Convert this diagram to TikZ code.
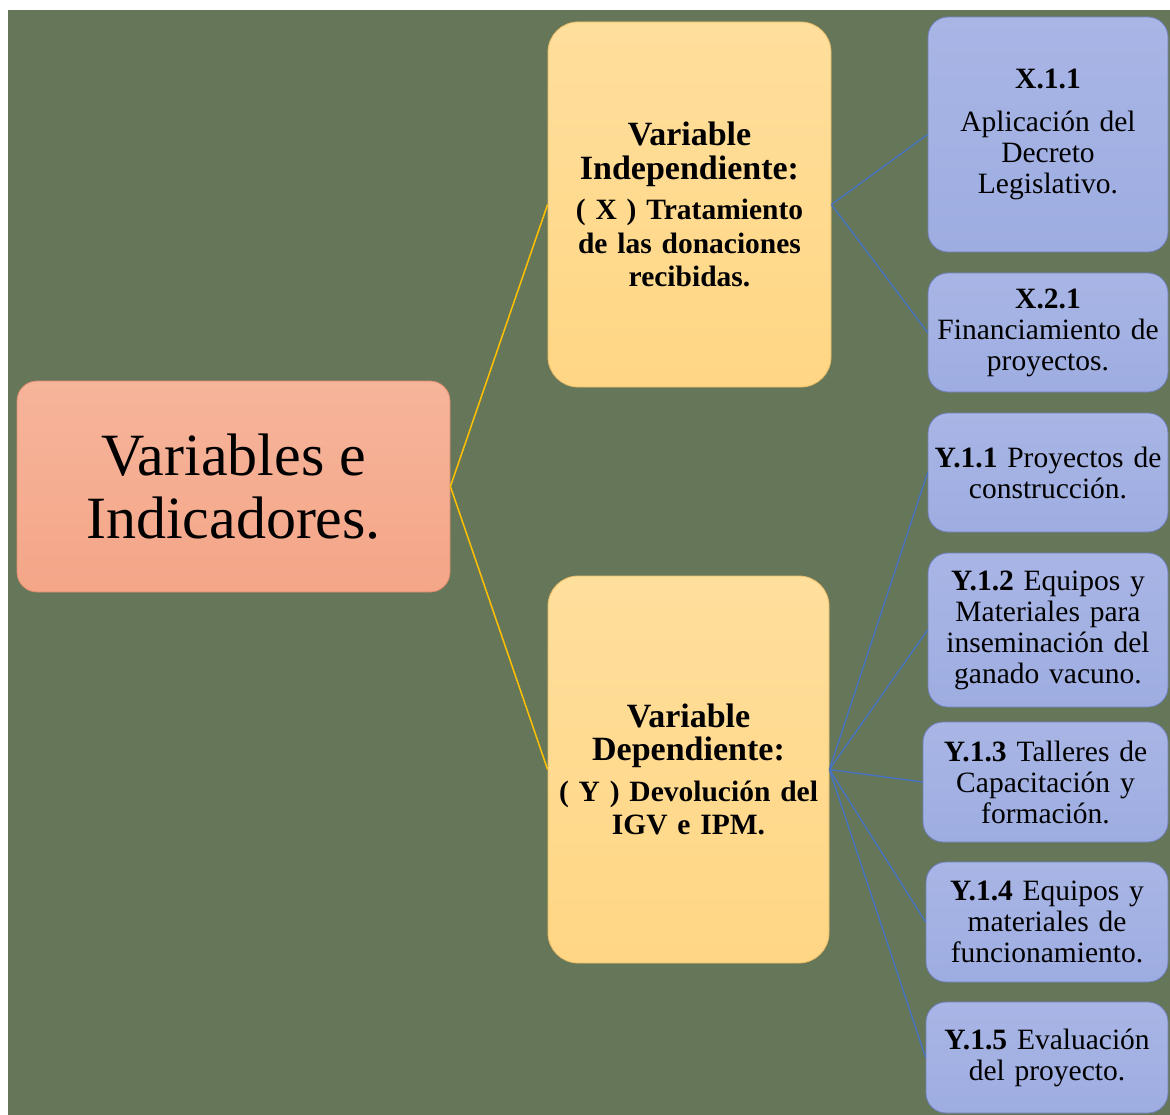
\documentclass[tikz,border=0pt]{standalone}
\usepackage{fontspec}
\setmainfont{Liberation Serif}
\definecolor{bggreen}{RGB}{102,119,89}
\definecolor{salmonT}{RGB}{246,180,154}
\definecolor{salmonB}{RGB}{244,166,136}
\definecolor{salmonD}{RGB}{222,140,112}
\definecolor{yelT}{RGB}{255,223,156}
\definecolor{yelB}{RGB}{255,214,132}
\definecolor{yelD}{RGB}{232,188,104}
\definecolor{bluT}{RGB}{168,181,229}
\definecolor{bluB}{RGB}{158,173,225}
\definecolor{bluD}{RGB}{112,128,190}
\definecolor{goldline}{RGB}{255,192,0}
\definecolor{blueline}{RGB}{68,114,196}
\begin{document}
\begin{tikzpicture}[x=1pt,y=-1pt,
  rootbox/.style={draw=salmonD,line width=0.8pt,top color=salmonT,bottom color=salmonB,
    rounded corners=20pt,inner sep=0pt,align=center,
    font=\fontsize{60}{63}\selectfont},
  varbox/.style={draw=yelD,line width=0.8pt,top color=yelT,bottom color=yelB,
    rounded corners=30pt,inner sep=0pt,align=center,text width=275pt,
    font=\fontsize{29.5}{33.5}\selectfont\bfseries},
  indbox/.style={draw=bluD,line width=0.8pt,top color=bluT,bottom color=bluB,
    rounded corners=20pt,inner sep=0pt,align=center,text width=238pt,
    font=\fontsize{29.5}{31}\selectfont},
  goldconn/.style={draw=goldline,line width=1.5pt},
  blueconn/.style={draw=blueline,line width=1.3pt}
]
\useasboundingbox (0,0) rectangle (1170,1115);
\fill[white] (0,0) rectangle (1170,1115);
\fill[bggreen] (8,10) rectangle (1170,1115);

% root
\node[rootbox,minimum width=433pt,minimum height=211pt] (root) at (233.5,486.5)
  {Variables e\\Indicadores.};

% variables
\node[varbox,minimum width=283pt,minimum height=365pt] (vx) at (689.5,204.5)
  {{\fontsize{34}{35}\selectfont Variable\\Independiente:}\\[7pt]
   ( X ) Tratamiento\\de las donaciones\\recibidas.};
\node[varbox,minimum width=281pt,minimum height=387pt] (vy) at (688.5,769.5)
  {{\fontsize{34}{35}\selectfont Variable\\Dependiente:}\\[7pt]
   ( Y ) Devolución del\\IGV e IPM.};

% indicators
\node[indbox,minimum width=240pt,minimum height=235pt] (x11) at (1048,134.5)
  {\textbf{X.1.1}\\[12pt]Aplicación del\\Decreto\\Legislativo.};
\node[indbox,minimum width=240pt,minimum height=119pt] (x21) at (1048,332.5)
  {\textbf{X.2.1}\\Financiamiento de\\proyectos.};
\node[indbox,minimum width=240pt,minimum height=119pt] (y11) at (1048,472.5)
  {\textbf{Y.1.1} Proyectos de\\construcción.};
\node[indbox,minimum width=240pt,minimum height=154pt] (y12) at (1048,630)
  {\textbf{Y.1.2} Equipos y\\Materiales para\\inseminación del\\ganado vacuno.};
\node[indbox,minimum width=245pt,minimum height=120pt] (y13) at (1045.5,782)
  {\textbf{Y.1.3} Talleres de\\Capacitación y\\formación.};
\node[indbox,minimum width=242pt,minimum height=120pt] (y14) at (1047,922)
  {\textbf{Y.1.4} Equipos y\\materiales de\\funcionamiento.};
\node[indbox,minimum width=242pt,minimum height=111pt] (y15) at (1047,1057.5)
  {\textbf{Y.1.5} Evaluación\\del proyecto.};

% connectors
\draw[goldconn] (root.east) -- (vx.west);
\draw[goldconn] (root.east) -- (vy.west);
\draw[blueconn] (vx.east) -- (x11.west);
\draw[blueconn] (vx.east) -- (x21.west);
\draw[blueconn] (vy.east) -- (y11.west);
\draw[blueconn] (vy.east) -- (y12.west);
\draw[blueconn] (vy.east) -- (y13.west);
\draw[blueconn] (vy.east) -- (y14.west);
\draw[blueconn] (vy.east) -- (y15.west);
\end{tikzpicture}
\end{document}
